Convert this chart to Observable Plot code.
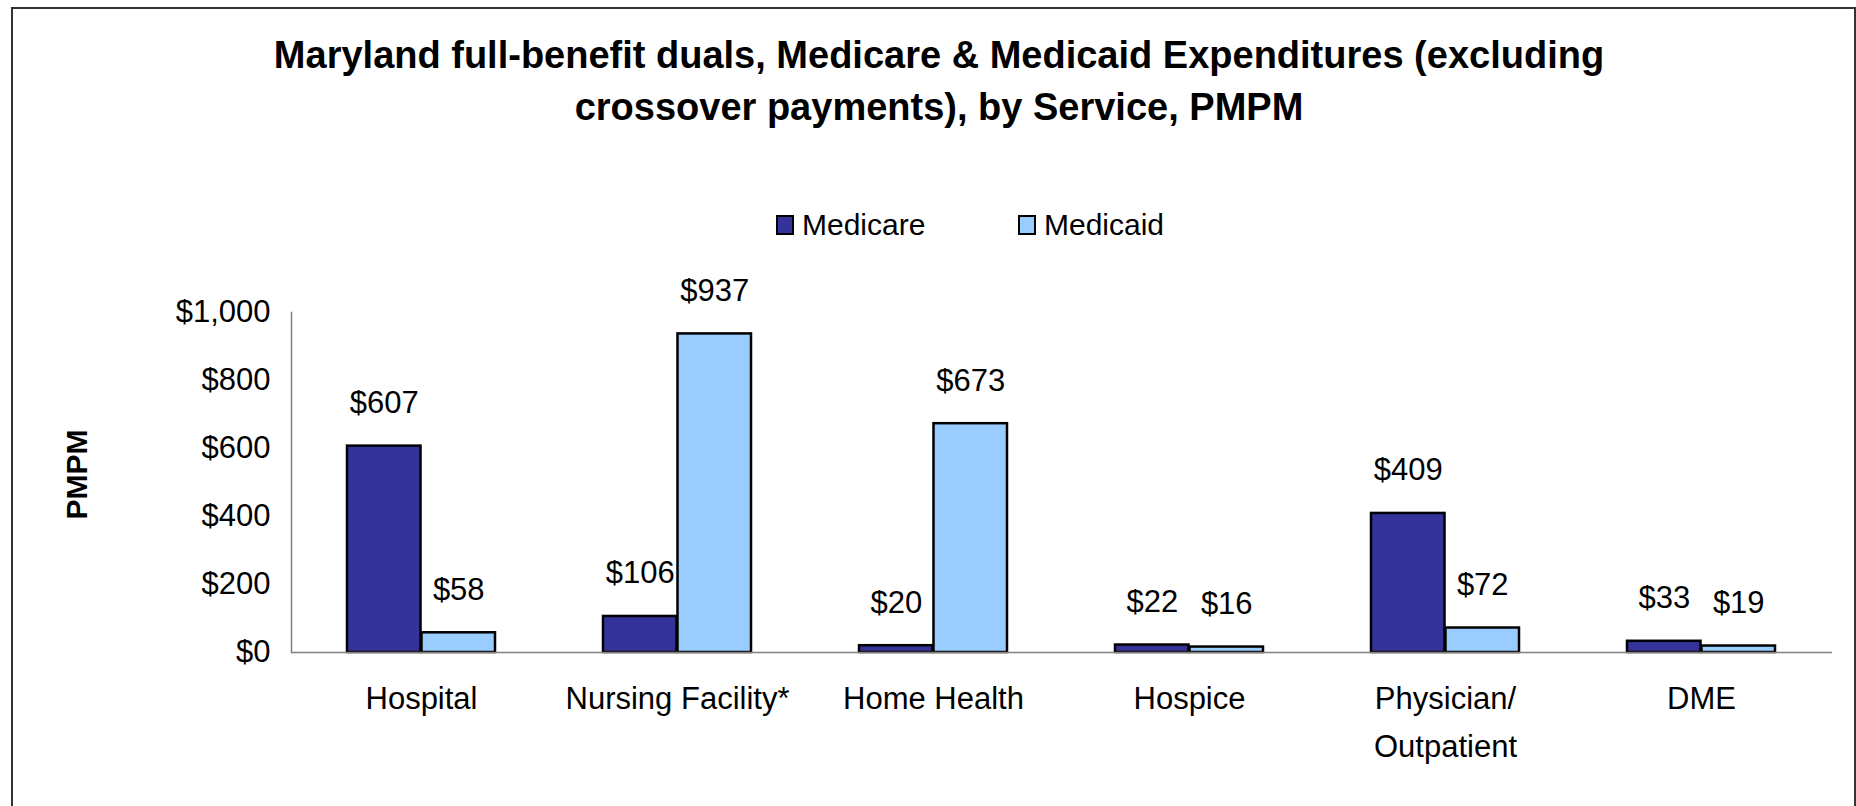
<!DOCTYPE html>
<html>
<head>
<meta charset="utf-8">
<script src="https://cdn.jsdelivr.net/npm/d3@7"></script>
<script src="https://cdn.jsdelivr.net/npm/@observablehq/plot@0.6"></script>
<style>
  html, body { margin: 0; padding: 0; background: #fff; }
  body { width: 1856px; height: 806px; overflow: hidden; position: relative; font-family: "Liberation Sans", Arial, sans-serif; }
  #border { position: absolute; left: 11px; top: 7px; width: 1841px; height: 900px; border: 2px solid #333; border-bottom: none; }
  #title { position: absolute; left: 22px; top: 29px; width: 1834px; text-align: center; font-weight: bold; font-size: 38px; line-height: 52px; color: #000; }
  .legend-item { position: absolute; top: 208px; height: 34px; display: flex; align-items: center; font-size: 30px; color: #000; }
  .swatch { width: 14px; height: 16px; border: 2px solid #000; margin-right: 8px; }
  #chart { position: absolute; left: 0; top: 250px; }
</style>
</head>
<body>
<div id="border"></div>
<div id="title">Maryland full-benefit duals, Medicare &amp; Medicaid Expenditures (excluding<br>crossover payments), by Service, PMPM</div>
<div id="legend"></div>
<div id="chart"></div>
<script>
// ---- data ----
const categories = ["Hospital", "Nursing Facility*", "Home Health", "Hospice", "Physician/\nOutpatient", "DME"];
const medicare = [607, 106, 20, 22, 409, 33];
const medicaid = [58, 937, 673, 16, 72, 19];
const seriesNames = ["Medicare", "Medicaid"];
const seriesColors = ["#333399", "#99CCFF"];
const yTicks = [0, 200, 400, 600, 800, 1000];

// ---- legend ----
const legendLeft = [776, 1018];
const legend = document.getElementById("legend");
seriesNames.forEach((name, i) => {
  const item = document.createElement("div");
  item.className = "legend-item";
  item.style.left = legendLeft[i] + "px";
  const sw = document.createElement("div");
  sw.className = "swatch";
  sw.style.background = seriesColors[i];
  item.appendChild(sw);
  item.appendChild(document.createTextNode(name));
  legend.appendChild(item);
});

// ---- chart ----
const width = 1856, height = 556;
const marginLeft = 291, marginRight = 24, marginTop = 62, marginBottom = 154;
const paddingInner = 0.42, paddingOuter = 0.21;
const step = (width - marginLeft - marginRight) / categories.length;
const half = step * (1 - paddingInner) / 2;

const medicareRows = categories.map((c, i) => ({category: c, value: medicare[i]}));
const medicaidRows = categories.map((c, i) => ({category: c, value: medicaid[i]}));
const fmt = d => "$" + d3.format(",")(d);

const chart = Plot.plot({
  width, height, marginLeft, marginRight, marginTop, marginBottom,
  style: {fontFamily: "'Liberation Sans', Arial, sans-serif", fontSize: "31px", color: "#000", background: "transparent", overflow: "visible"},
  x: {domain: categories, paddingInner, paddingOuter, axis: null},
  y: {domain: [0, 1000], axis: null},
  marks: [
    Plot.frame({anchor: "left", stroke: "#808080", strokeWidth: 1.5}),
    Plot.barY(medicareRows, {x: "category", y: "value", fill: seriesColors[0], stroke: "#000", strokeWidth: 2.5, insetRight: half}),
    Plot.barY(medicaidRows, {x: "category", y: "value", fill: seriesColors[1], stroke: "#000", strokeWidth: 2.5, insetLeft: half}),
    Plot.ruleY([0], {stroke: "#808080", strokeWidth: 1.5}),
    Plot.text(medicareRows, {x: "category", y: "value", text: d => fmt(d.value), dx: -half / 2, dy: -33, lineAnchor: "bottom", fontSize: 31, fill: "#000"}),
    Plot.text(medicaidRows, {x: "category", y: "value", text: d => fmt(d.value), dx: half / 2, dy: -33, lineAnchor: "bottom", fontSize: 31, fill: "#000"}),
    Plot.axisY({ticks: yTicks, tickFormat: fmt, tickSize: 0, tickPadding: 21, label: null, fontSize: 31}),
    Plot.axisX({tickSize: 0, tickPadding: 22, label: null, lineHeight: 1.55, fontSize: 31}),
    Plot.text(["PMPM"], {frameAnchor: "left", textAnchor: "middle", rotate: -90, dx: -214, dy: -8, fontWeight: "bold", fontSize: 30, fill: "#000"})
  ]
});
document.getElementById("chart").appendChild(chart);
</script>
</body>
</html>
